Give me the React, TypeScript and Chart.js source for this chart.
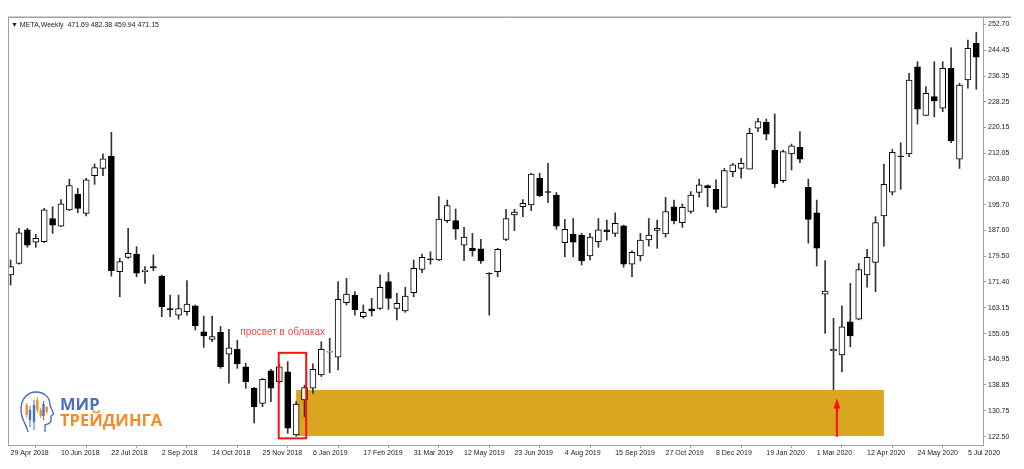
import React, { useEffect, useRef } from 'react';
import { Chart, registerables } from 'chart.js';

Chart.register(...registerables);

// ---- Weekly candles (index 0 = week of 29 Apr 2018) ----
const openValues: number[] = [
  173.6, 177.2, 187.8, 183.9, 184.1, 191.4, 189.0, 194.1, 199.1, 193.0,
  204.9, 207.2, 211.1, 174.6, 179.1, 180.2, 174.6, 176.2, 173.2, 163.0,
  160.9, 162.0, 163.8, 155.6, 153.2, 155.5, 148.6, 150.1, 144.6, 137.8,
  133.0, 143.3, 139.9, 143.0, 123.1, 134.1, 137.8, 142.0, 149.2, 147.6,
  164.8, 167.2, 160.4, 162.9, 163.0, 171.5, 163.0, 162.2, 168.0, 175.3,
  178.7, 178.3, 190.7, 190.7, 183.0, 182.0, 181.8, 174.1, 174.6, 184.8,
  192.5, 195.1, 195.7, 204.1, 199.9, 198.8, 183.8, 186.5, 186.2, 179.6,
  184.1, 187.8, 186.7, 189.1, 177.0, 179.6, 184.6, 187.6, 186.5, 195.1,
  190.1, 193.6, 199.6, 201.8, 200.6, 194.9, 206.2, 207.2, 207.0, 219.9,
  221.8, 213.0, 203.3, 211.8, 213.9, 201.2, 193.2, 167.5, 149.6, 148.3,
  158.8, 159.6, 173.6, 177.5, 192.2, 199.7, 211.1, 211.8, 239.3, 223.9,
  229.9, 226.2, 238.8, 210.1, 235.1, 246.7,
];
const highValues: number[] = [
  178.3, 188.3, 188.3, 186.4, 194.6, 195.1, 197.4, 203.8, 200.9, 204.1,
  208.6, 211.8, 218.6, 178.8, 188.3, 182.5, 176.2, 179.9, 173.5, 167.2,
  167.2, 171.8, 164.1, 160.6, 160.6, 157.3, 156.4, 153.0, 145.7, 138.1,
  140.9, 143.8, 145.5, 146.2, 133.6, 138.8, 145.5, 152.5, 153.6, 171.5,
  172.5, 168.3, 164.1, 166.2, 173.6, 174.3, 167.8, 169.7, 178.3, 180.2,
  180.9, 198.3, 197.2, 194.4, 188.6, 186.7, 184.8, 174.3, 182.0, 194.3,
  194.3, 197.4, 205.7, 205.7, 208.8, 199.6, 191.1, 191.4, 186.7, 186.7,
  191.4, 190.9, 193.2, 189.3, 181.2, 186.7, 191.4, 190.9, 198.1, 197.2,
  196.0, 199.9, 203.8, 202.0, 203.6, 207.2, 208.8, 210.4, 219.9, 223.0,
  222.8, 224.4, 213.0, 214.9, 218.8, 203.8, 197.2, 178.1, 159.9, 163.8,
  170.9, 177.2, 181.7, 192.0, 208.6, 213.2, 215.3, 237.2, 240.9, 233.0,
  240.9, 240.9, 245.3, 234.1, 247.7, 250.2,
];
const lowValues: number[] = [
  170.4, 177.0, 182.3, 182.3, 183.8, 186.7, 188.8, 193.9, 193.2, 192.2,
  202.2, 204.9, 173.2, 166.7, 178.8, 173.0, 170.9, 174.9, 160.4, 160.4,
  159.6, 160.9, 156.2, 150.7, 152.5, 144.1, 139.4, 144.1, 137.8, 126.9,
  132.0, 133.6, 139.4, 123.6, 122.7, 128.8, 136.2, 141.5, 142.7, 143.6,
  164.1, 160.9, 159.9, 160.6, 162.7, 162.7, 159.4, 161.8, 166.7, 174.3,
  177.0, 178.1, 190.1, 184.8, 178.1, 179.5, 177.2, 160.9, 173.0, 184.4,
  187.6, 192.0, 193.9, 198.3, 196.4, 188.0, 179.3, 179.3, 176.7, 178.3,
  182.3, 184.6, 185.7, 176.0, 173.0, 178.0, 182.7, 182.0, 185.5, 189.7,
  188.6, 193.0, 198.1, 195.1, 193.2, 194.9, 204.6, 204.1, 207.0, 218.8,
  216.2, 201.2, 202.8, 206.7, 209.0, 183.6, 176.4, 155.1, 137.3, 143.0,
  150.9, 159.4, 169.7, 168.3, 182.7, 198.8, 200.6, 210.9, 221.2, 223.9,
  223.5, 225.1, 215.3, 207.2, 232.5, 232.2,
];
const closeValues: number[] = [
  176.2, 186.9, 183.0, 185.1, 194.1, 189.3, 196.0, 201.8, 194.6, 203.6,
  207.5, 210.2, 174.9, 177.8, 180.4, 174.1, 175.1, 175.8, 163.6, 162.5,
  163.0, 164.4, 157.6, 154.3, 154.1, 144.6, 150.6, 145.5, 139.9, 132.0,
  140.6, 137.8, 144.6, 125.2, 132.8, 138.0, 143.8, 150.1, 149.4, 165.9,
  167.5, 162.5, 161.8, 162.2, 169.7, 166.2, 164.6, 166.9, 175.7, 179.1,
  178.4, 191.2, 195.5, 188.0, 185.5, 181.2, 178.0, 173.9, 181.7, 191.4,
  193.4, 196.2, 205.4, 198.6, 199.6, 189.0, 188.0, 183.9, 178.0, 185.5,
  187.8, 187.2, 189.9, 177.0, 180.7, 184.6, 186.2, 188.3, 193.6, 190.7,
  194.9, 198.8, 202.0, 201.1, 194.3, 206.5, 208.3, 208.8, 218.3, 222.0,
  218.0, 202.3, 212.5, 214.3, 210.1, 191.1, 182.0, 168.5, 150.2, 157.2,
  154.3, 175.3, 179.1, 190.1, 202.2, 212.3, 210.9, 235.1, 225.9, 230.9,
  228.5, 238.8, 216.0, 233.5, 245.1, 242.3,
];

// ---- Axis labels ----
const dateTickLabels: string[] = [
  '29 Apr 2018', '10 Jun 2018', '22 Jul 2018', '2 Sep 2018', '14 Oct 2018',
  '25 Nov 2018', '6 Jan 2019', '17 Feb 2019', '31 Mar 2019', '12 May 2019',
  '23 Jun 2019', '4 Aug 2019', '15 Sep 2019', '27 Oct 2019', '8 Dec 2019',
  '19 Jan 2020', '1 Mar 2020', '12 Apr 2020', '24 May 2020', '5 Jul 2020',
];
const dateTickWeeks: number[] = [
  0, 6, 12, 18, 24, 30, 36, 42, 48, 54, 60, 66, 72, 78, 84, 90, 96, 102, 108, 114,
];
const priceTicks: number[] = [
  122.5, 130.75, 138.85, 146.95, 155.05, 163.15, 171.4, 179.5, 187.6,
  195.7, 203.8, 212.05, 220.15, 228.25, 236.35, 244.45, 252.7,
];

// ---- Annotations (in data units: week index / price) ----
const zoneWeeks: number[] = [34, 104];
const zonePrices: number[] = [122.73, 137.25];
const boxWeeks: number[] = [31.93, 35.2];
const boxPrices: number[] = [122.0, 149.0];
const arrowWeek = 98.4;
const arrowPrices: number[] = [122.5, 134.6];
const noteWeek = 32.4;
const notePrice = 155.35;
const noteText = 'просвет в облаках';
const headerText = '\u25BC META,Weekly  471.69 482.38 459.94 471.15';

const FONT = "'Liberation Sans', Arial, sans-serif";
const FRAME = '#a0a0a0';
const LOGO_BLUE = '#4a6fbe';
const LOGO_ORANGE = '#f68b2c';

function drawLogo(ctx: CanvasRenderingContext2D) {
  ctx.save();
  // head outline
  ctx.strokeStyle = LOGO_BLUE;
  ctx.lineWidth = 1.4;
  ctx.beginPath();
  ctx.moveTo(28, 432);
  ctx.bezierCurveTo(27, 425, 21, 420, 21, 410);
  ctx.bezierCurveTo(21, 398, 28, 392, 36, 392);
  ctx.bezierCurveTo(45, 392, 50, 398, 50, 405);
  ctx.lineTo(53.5, 414);
  ctx.lineTo(51, 416);
  ctx.lineTo(51, 420);
  ctx.bezierCurveTo(51, 424, 47, 424, 45, 425);
  ctx.lineTo(45, 432);
  ctx.stroke();
  // little candles inside the head
  const bars: [number, string, number, number, number, number][] = [
    [26.7, LOGO_ORANGE, 403, 418, 405, 415],
    [30, LOGO_BLUE, 406, 427, 410, 420],
    [34, LOGO_BLUE, 400, 430, 405, 422],
    [37.3, LOGO_ORANGE, 397, 413, 400, 410],
    [40.7, LOGO_ORANGE, 408, 418, 410, 416],
    [43.5, LOGO_BLUE, 401, 420, 404, 416],
    [46.7, LOGO_ORANGE, 406, 414, 407, 412],
  ];
  bars.forEach(([x, c, wt, wb, bt, bb]) => {
    ctx.fillStyle = c;
    ctx.fillRect(x - 0.5, wt, 1, wb - wt);
    ctx.fillRect(x - 1.2, bt, 2.4, bb - bt);
  });
  ctx.textBaseline = 'alphabetic';
  ctx.textAlign = 'left';
  ctx.font = "bold 16.5px 'Open Sans', sans-serif";
  ctx.fillStyle = LOGO_BLUE;
  ctx.fillText('МИР', 60, 409.5);
  ctx.fillStyle = LOGO_ORANGE;
  ctx.fillText('ТРЕЙДИНГА', 60, 426);
  ctx.restore();
}

const annotationPlugin = {
  id: 'mtAnnotations',
  beforeDatasetsDraw(chart: any) {
    const { ctx, scales } = chart;
    const x = scales.x, y = scales.y;
    const x0 = x.getPixelForValue(zoneWeeks[0]);
    const x1 = x.getPixelForValue(zoneWeeks[1]);
    const y0 = y.getPixelForValue(zonePrices[1]);
    const y1 = y.getPixelForValue(zonePrices[0]);
    ctx.save();
    ctx.fillStyle = '#daa520';
    ctx.fillRect(x0, y0, x1 - x0, y1 - y0);
    ctx.restore();
  },
  afterDatasetsDraw(chart: any) {
    const { ctx, scales } = chart;
    const x = scales.x, y = scales.y;
    ctx.save();
    // red box
    const bx0 = x.getPixelForValue(boxWeeks[0]);
    const bx1 = x.getPixelForValue(boxWeeks[1]);
    const by0 = y.getPixelForValue(boxPrices[1]);
    const by1 = y.getPixelForValue(boxPrices[0]);
    ctx.strokeStyle = '#ff1010';
    ctx.lineWidth = 2;
    ctx.strokeRect(bx0, by0, bx1 - bx0, by1 - by0);
    // arrow
    const ax = x.getPixelForValue(arrowWeek);
    const ay0 = y.getPixelForValue(arrowPrices[0]);
    const ay1 = y.getPixelForValue(arrowPrices[1]);
    ctx.strokeStyle = '#ff1010';
    ctx.fillStyle = '#ff1010';
    ctx.lineWidth = 2;
    ctx.beginPath();
    ctx.moveTo(ax, ay0);
    ctx.lineTo(ax, ay1 + 8);
    ctx.stroke();
    ctx.beginPath();
    ctx.moveTo(ax, ay1);
    ctx.lineTo(ax - 3.5, ay1 + 10);
    ctx.lineTo(ax + 3.5, ay1 + 10);
    ctx.closePath();
    ctx.fill();
    // note
    ctx.font = `10px ${FONT}`;
    ctx.fillStyle = '#f24d4d';
    ctx.textAlign = 'center';
    ctx.textBaseline = 'middle';
    ctx.fillText(noteText, x.getPixelForValue(noteWeek), y.getPixelForValue(notePrice));
    ctx.restore();
  },
  afterDraw(chart: any) {
    const { ctx, chartArea } = chart;
    ctx.save();
    ctx.strokeStyle = FRAME;
    ctx.lineWidth = 1;
    ctx.beginPath();
    ctx.moveTo(chartArea.left, chartArea.top + 0.5);
    ctx.lineTo(1011, chartArea.top + 0.5);
    ctx.moveTo(chartArea.left + 0.5, chartArea.top);
    ctx.lineTo(chartArea.left + 0.5, chartArea.bottom);
    ctx.stroke();
    ctx.strokeStyle = '#d0d0d0';
    ctx.beginPath();
    ctx.moveTo(chartArea.left, chartArea.top - 0.5);
    ctx.lineTo(1011, chartArea.top - 0.5);
    ctx.stroke();
    ctx.font = `7px ${FONT}`;
    ctx.fillStyle = '#222';
    ctx.textAlign = 'left';
    ctx.textBaseline = 'middle';
    ctx.fillText(headerText, chartArea.left + 3, 25);
    ctx.restore();
    drawLogo(ctx);
  },
};

export default function App() {
  const canvasRef = useRef<HTMLCanvasElement>(null);

  useEffect(() => {
    const canvas = canvasRef.current;
    if (!canvas) return;
    const bodies = openValues.map((o, i) => ({
      x: i,
      y: [Math.min(o, closeValues[i]), Math.max(o, closeValues[i])],
    }));
    const wicks = lowValues.map((l, i) => ({ x: i, y: [l, highValues[i]] }));
    const bodyColors = openValues.map((o, i) => (closeValues[i] >= o ? '#ffffff' : '#000000'));

    const chart = new Chart(canvas, {
      type: 'bar',
      data: {
        datasets: [
          {
            label: 'body',
            data: bodies as any,
            backgroundColor: bodyColors,
            borderColor: '#000000',
            borderWidth: 1,
            borderSkipped: false,
            barThickness: 6,
            grouped: false,
            order: 0,
          },
          {
            label: 'wick',
            data: wicks as any,
            backgroundColor: '#333333',
            borderWidth: 0,
            barThickness: 1,
            grouped: false,
            order: 1,
          },
        ],
      },
      options: {
        responsive: false,
        animation: false,
        events: [],
        layout: { padding: { left: 8, top: 17, right: 0, bottom: 0 } },
        plugins: {
          legend: { display: false },
          tooltip: { enabled: false },
          title: { display: false },
        },
        scales: {
          x: {
            type: 'linear',
            min: -0.31,
            max: 115.8,
            offset: false,
            afterFit: (scale: any) => {
              scale.height = 24;
            },
            afterBuildTicks: (scale: any) => {
              scale.ticks = dateTickWeeks.map((v) => ({ value: v }));
            },
            grid: {
              display: true,
              drawOnChartArea: false,
              drawTicks: true,
              tickLength: 3,
              color: FRAME,
            },
            border: { display: true, color: FRAME },
            ticks: {
              autoSkip: false,
              maxRotation: 0,
              minRotation: 0,
              align: 'start',
              padding: 1,
              color: '#222',
              font: { family: FONT, size: 7 },
              callback: (value: any) => {
                const k = dateTickWeeks.indexOf(Number(value));
                return k >= 0 ? dateTickLabels[k] : '';
              },
            },
          },
          y: {
            type: 'linear',
            position: 'right',
            min: 119.9,
            max: 255.0,
            afterFit: (scale: any) => {
              scale.width = 41;
            },
            afterBuildTicks: (scale: any) => {
              scale.ticks = priceTicks.map((v) => ({ value: v }));
            },
            grid: {
              display: true,
              drawOnChartArea: false,
              drawTicks: true,
              tickLength: 3,
              color: FRAME,
            },
            border: { display: true, color: FRAME },
            ticks: {
              autoSkip: false,
              padding: 2,
              color: '#222',
              font: { family: FONT, size: 7 },
              callback: (value: any) => Number(value).toFixed(2),
            },
          },
        },
      },
      plugins: [annotationPlugin],
    });
    return () => chart.destroy();
  }, []);

  return (
    <div
      style={{
        position: 'fixed',
        left: 0,
        top: 0,
        width: 1024,
        height: 469,
        background: '#ffffff',
      }}
    >
      <canvas ref={canvasRef} width={1024} height={469} style={{ display: 'block' }} />
    </div>
  );
}
